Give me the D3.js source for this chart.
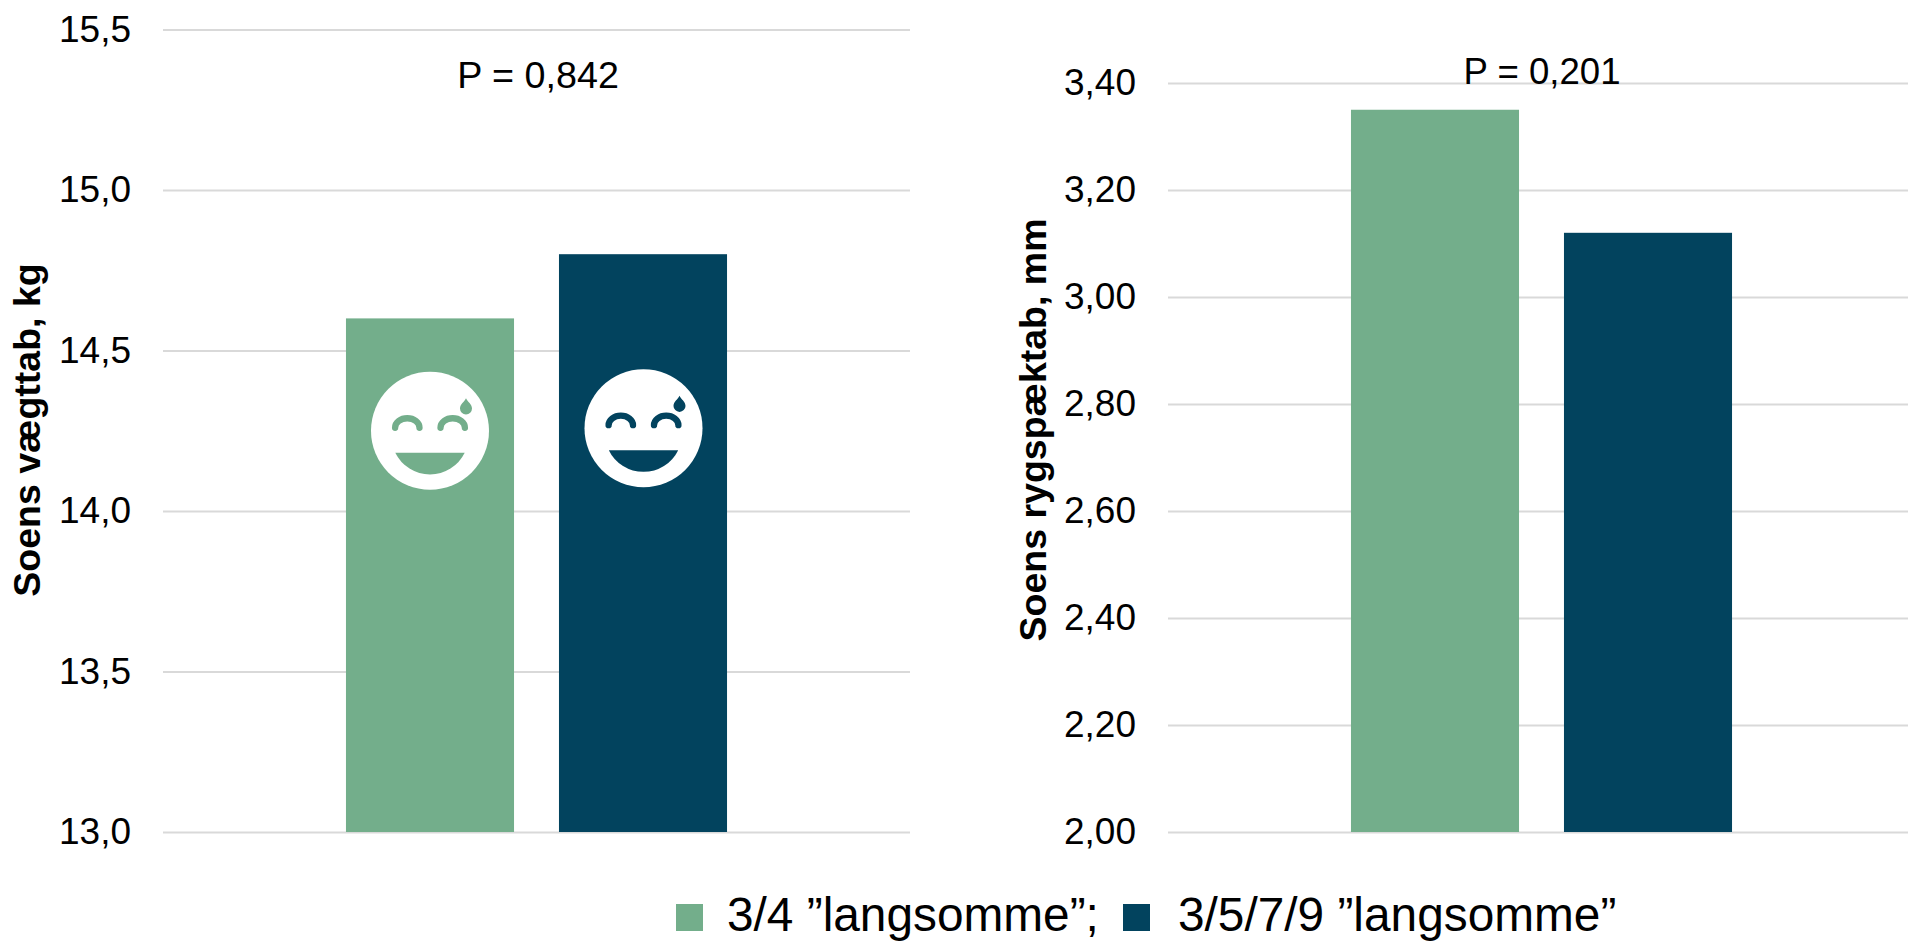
<!DOCTYPE html>
<html>
<head>
<meta charset="utf-8">
<script src="https://cdn.jsdelivr.net/npm/d3@7"></script>
<style>
	html, body { margin: 0; padding: 0; background: #fff; overflow: hidden; }
	text { font-family: "Liberation Sans", Arial, sans-serif; fill: #000; }
</style>
</head>
<body>
<svg id="chart" width="1908" height="941"></svg>
<script>
var series = ['3/4 ”langsomme”;', '3/5/7/9 ”langsomme”'];
var colors = ['#73ae8b', '#02435e'];

var weightValues = [14.6, 14.8];
var weightTicks = [13.0, 13.5, 14.0, 14.5, 15.0, 15.5];
var backfatValues = [3.35, 3.12];
var backfatTicks = [2.0, 2.2, 2.4, 2.6, 2.8, 3.0, 3.2, 3.4];

var svg = d3.select('#chart');
var commaFormat = d3.formatLocale({ decimal: ',', thousands: '.', grouping: [3], currency: ['', ''] });

function drawPanel(opts) {
	var x = d3.scaleBand()
		.domain(series)
		.range([opts.left, opts.left + 747])
		.paddingInner(.211)
		.paddingOuter(.859);

	var y = d3.scaleLinear()
		.domain(opts.domain)
		.range([832, opts.top]);

	var axis = d3.axisLeft(y)
		.tickValues(opts.ticks)
		.tickSize(-747)
		.tickPadding(32)
		.tickFormat(commaFormat.format(opts.fmt));

	var g = svg.append('g')
		.attr('transform', 'translate(' + opts.left + ',0)')
		.call(axis);
	g.select('.domain').remove();
	g.selectAll('.tick line')
		.attr('stroke', '#d9d9d9')
		.attr('stroke-width', 2);
	g.selectAll('.tick text')
		.attr('font-size', 37);

	svg.selectAll(null)
		.data(opts.values)
		.enter().append('rect')
		.attr('x', function(d, i) { return x(series[i]); })
		.attr('y', function(d) { return y(d); })
		.attr('width', x.bandwidth())
		.attr('height', function(d) { return 832 - y(d); })
		.attr('fill', function(d, i) { return colors[i]; });

	svg.append('text')
		.attr('transform', 'translate(' + opts.titleX + ',' + opts.titleY + ') rotate(-90)')
		.attr('text-anchor', 'middle')
		.attr('font-size', 37.5)
		.attr('font-weight', 'bold')
		.text(opts.title);

	svg.append('text')
		.attr('x', opts.pX)
		.attr('y', opts.pY)
		.attr('text-anchor', 'middle')
		.attr('font-size', opts.pSize)
		.text(opts.pLabel);

	return { x: x, y: y };
}

function drawFace(cx, cy, color) {
	var f = svg.append('g').attr('transform', 'translate(' + cx + ',' + cy + ')');
	f.append('circle').attr('r', 59).attr('fill', '#fff');

	[-22.7, 22.7].forEach(function(ex) {
		f.append('path')
			.attr('d', 'M' + (ex - 12.2) + ',-3 A12.2,9.5 0 0 1 ' + (ex + 12.2) + ',-3')
			.attr('fill', 'none')
			.attr('stroke', color)
			.attr('stroke-width', 6.3)
			.attr('stroke-linecap', 'round');
	});

	f.append('path')
		.attr('d', 'M-34.7,22 L34.7,22 A38.6,38.6 0 0 1 -34.7,22 Z')
		.attr('fill', color);

	// sweat drop
	f.append('path')
		.attr('d', 'M36,-32.5 C37.5,-29 42,-26.5 42,-22.3 A6,6 0 0 1 30,-22.3 C30,-26.5 34.5,-29 36,-32.5 Z')
		.attr('fill', color);
}

var left = drawPanel({
	left: 163, top: 29.5, domain: [13, 15.5],
	ticks: weightTicks, fmt: '.1f', values: weightValues,
	title: 'Soens vægttab, kg', titleX: 40, titleY: 430,
	pLabel: 'P = 0,842', pX: 538, pY: 88, pSize: 37.7
});

drawPanel({
	left: 1168, top: 83, domain: [2, 3.4],
	ticks: backfatTicks, fmt: '.2f', values: backfatValues,
	title: 'Soens rygspæktab, mm', titleX: 1046, titleY: 430,
	pLabel: 'P = 0,201', pX: 1542, pY: 84, pSize: 36.6
});

drawFace(left.x(series[0]) + left.x.bandwidth() / 2, left.y(14.25), colors[0]);
drawFace(left.x(series[1]) + left.x.bandwidth() / 2 + .5, left.y(14.258), colors[1]);

// legend
var legendX = [676, 1123];
var legendTextX = [727, 1178];
series.forEach(function(s, i) {
	svg.append('rect')
		.attr('x', legendX[i])
		.attr('y', 904)
		.attr('width', 27)
		.attr('height', 27)
		.attr('fill', colors[i]);
	svg.append('text')
		.attr('x', legendTextX[i])
		.attr('y', 931)
		.attr('font-size', 47.8)
		.text(s);
});
</script>
</body>
</html>
